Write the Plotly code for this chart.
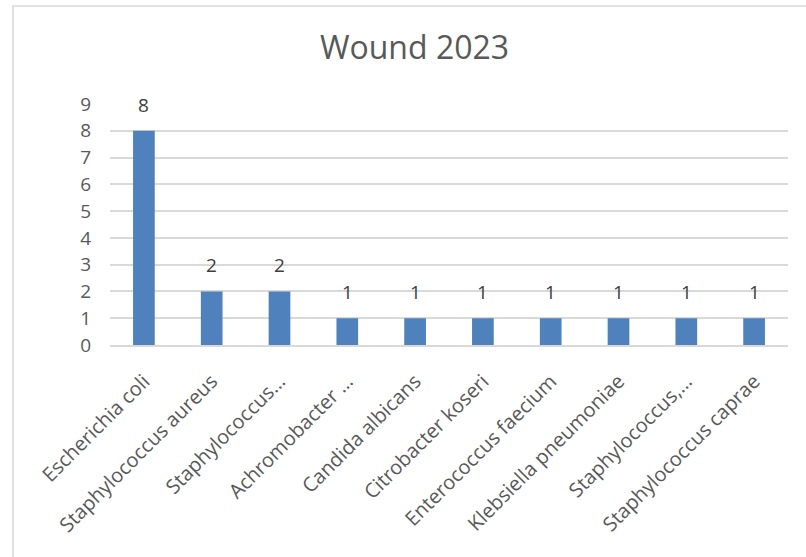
import plotly.graph_objects as go

categories = ["Escherichia coli", "Staphylococcus aureus", "Staphylococcus…",
              "Achromobacter …", "Candida albicans", "Citrobacter koseri",
              "Enterococcus faecium", "Klebsiella pneumoniae", "Staphylococcus,…",
              "Staphylococcus caprae"]
counts = [8, 2, 2, 1, 1, 1, 1, 1, 1, 1]
y_ticks = list(range(0, 10))

FONT = "Open Sans, Liberation Sans, Arial"
GREY = "#595959"

fig = go.Figure(go.Bar(
    x=categories, y=counts,
    marker=dict(color="#4f81bd", line=dict(width=0)),
    cliponaxis=False,
))

annotations = [dict(x=c, y=v, xref="x", yref="y", text=str(v), showarrow=False,
                    yanchor="bottom", yshift=11,
                    font=dict(family=FONT, size=19, color="#404040"))
               for c, v in zip(categories, counts)]

fig.update_layout(
    width=806, height=557,
    margin=dict(l=110, r=18, t=104, b=212),
    paper_bgcolor="white", plot_bgcolor="white",
    bargap=0.68,
    showlegend=False,
    annotations=annotations,
    title=dict(text="Wound 2023", x=414.5 / 806, xref="container", xanchor="center",
               y=1 - 48 / 557, yref="container", yanchor="middle",
               font=dict(family=FONT, size=32, color=GREY)),
    xaxis=dict(tickangle=-45, tickfont=dict(family=FONT, size=20, color=GREY),
               showgrid=False, showline=True, linecolor="#d9d9d9", linewidth=1.5,
               ticks="", ticklabelstandoff=15),
    yaxis=dict(range=[0, 9], tickvals=y_ticks, tickfont=dict(family=FONT, size=19, color=GREY),
               showgrid=True, gridcolor="#d9d9d9", gridwidth=1.5, zeroline=False,
               showline=False, ticks="", ticklabelstandoff=18),
    shapes=[dict(type="rect", xref="paper", yref="paper",
                 x0=(13 - 110) / 678, x1=1.2, y0=-1.2, y1=(345 - 6) / 241,
                 line=dict(color="#d9d9d9", width=1.5), fillcolor="rgba(0,0,0,0)", layer="below")],
)

fig.write_html("out.html")
